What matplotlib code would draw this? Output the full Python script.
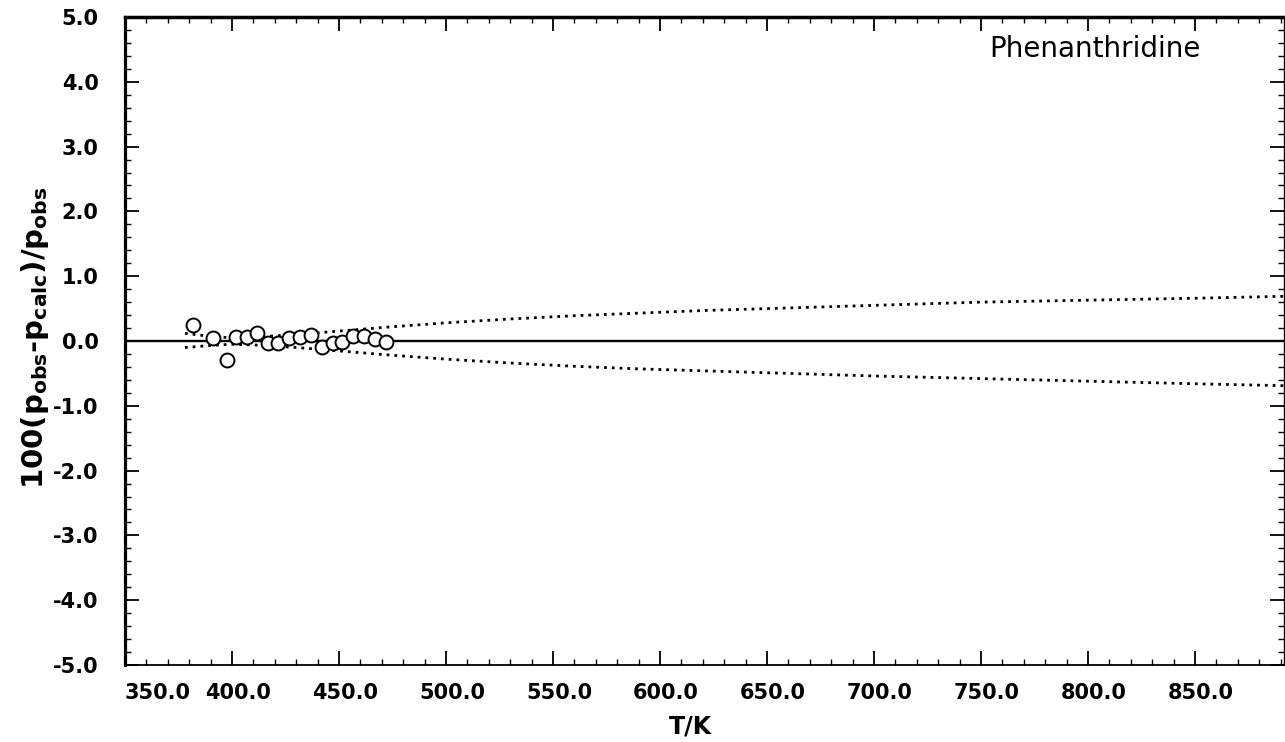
"""Deviation plot for phenanthridine vapour pressures, 100(p_obs - p_calc)/p_obs vs T."""

import matplotlib
matplotlib.use("Agg")
import matplotlib.pyplot as plt
from matplotlib.ticker import MultipleLocator
from matplotlib.transforms import ScaledTranslation

# observed deviations (circles)
T_obs = [381.6, 391.0, 397.7, 402.0, 407.0, 411.7, 416.8, 421.5, 426.6,
         432.0, 437.0, 442.0, 447.0, 451.6, 456.7, 461.7, 466.8, 472.0]
dev_obs = [0.24, 0.05, -0.30, 0.06, 0.06, 0.12, -0.03, -0.03, 0.05,
           0.06, 0.09, -0.09, -0.03, -0.02, 0.08, 0.08, 0.03, -0.02]

# uncertainty envelope (dotted)
T_env = [378, 390, 400, 410, 420, 430, 445, 460, 475, 500, 530, 560, 590,
         620, 660, 700, 750, 800, 850, 892]
env_hi = [0.12, 0.07, 0.05, 0.06, 0.08, 0.10, 0.14, 0.18, 0.22, 0.28, 0.34,
          0.39, 0.43, 0.47, 0.51, 0.55, 0.60, 0.63, 0.66, 0.69]
env_lo = [-0.10, -0.07, -0.05, -0.06, -0.08, -0.10, -0.14, -0.18, -0.22,
          -0.28, -0.34, -0.39, -0.43, -0.46, -0.50, -0.54, -0.58, -0.62,
          -0.66, -0.69]

x_ticks = [350, 400, 450, 500, 550, 600, 650, 700, 750, 800, 850]
y_ticks = [5, 4, 3, 2, 1, 0, -1, -2, -3, -4, -5]

W, H = 1285, 742
fig = plt.figure(figsize=(W / 100, H / 100), dpi=100, facecolor="white")
ax = fig.add_axes([125 / W, 77 / H, 1159 / W, 648 / H])

ax.axhline(0, color="black", lw=1.7, zorder=2)
ax.plot(T_env, env_hi, color="black", lw=2.0, ls=(0, (1, 1.8)), zorder=2)
ax.plot(T_env, env_lo, color="black", lw=2.0, ls=(0, (1, 1.8)), zorder=2)
ax.plot(T_obs, dev_obs, ls="none", marker="o", ms=10, mfc="white",
        mec="black", mew=1.4, zorder=3)

ax.set_xlim(350, 350 + 1159 / 2.14)
ax.set_ylim(-5, 5)
ax.set_xticks(x_ticks)
ax.set_xticklabels([f"{v:.1f}" for v in x_ticks])
ax.xaxis.set_minor_locator(MultipleLocator(10))
ax.set_yticks(y_ticks)
ax.set_yticklabels([f"{v:.1f}" for v in y_ticks])
ax.yaxis.set_minor_locator(MultipleLocator(0.2))
ax.tick_params(which="both", direction="in", top=True, right=True,
               color="black", labelsize=15)
ax.tick_params(which="major", length=10, width=1.3)
ax.tick_params(which="minor", length=4, width=1.0)
ax.tick_params(axis="y", pad=19)
ax.tick_params(axis="x", pad=13)
for lab in ax.get_yticklabels() + ax.get_xticklabels():
    lab.set_fontweight("bold")

# the scan's x labels sit slightly right of their ticks; the first one clears the spine
xlabs = ax.get_xticklabels()
xlabs[0].set_horizontalalignment("left")
for lab in xlabs[1:]:
    lab.set_transform(lab.get_transform() + ScaledTranslation(0.06, 0, fig.dpi_scale_trans))

ax.spines["left"].set_linewidth(2.3)
ax.spines["top"].set_linewidth(2.5)
ax.spines["bottom"].set_linewidth(1.3)
ax.spines["right"].set_linewidth(1.0)

fig.text(690 / W, 1 - 727 / H, "T/K", ha="center", va="center",
         fontsize=17, fontweight="bold")
fig.text(35 / W, 1 - 338 / H,
         r"100(p$_{\mathbf{obs}}$-p$_{\mathbf{calc}}$)/p$_{\mathbf{obs}}$",
         rotation=90, ha="center", va="center", fontsize=21, fontweight="bold")
ax.text(0.928, 0.95, "Phenanthridine", transform=ax.transAxes,
        ha="right", va="center", fontsize=20)

fig.savefig("out.png", dpi=100)
